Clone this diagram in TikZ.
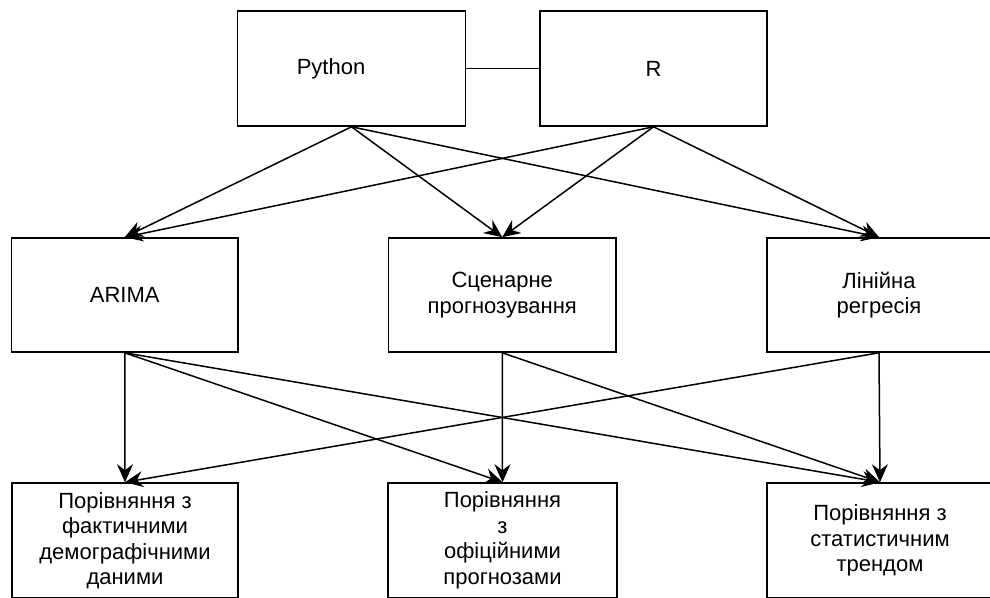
\documentclass[tikz,border=0pt]{standalone}
\usepackage{fontspec}
\setmainfont{Liberation Sans}
\usetikzlibrary{arrows.meta}
\begin{document}
\begin{tikzpicture}[x=1pt,y=-1pt,
  box/.style={draw,line width=1.6pt,rectangle,inner sep=0pt},
  lbl/.style={font=\fontsize{22}{25.5}\selectfont,align=center,inner sep=0pt},
  arr/.style={line width=1.5pt,-{Stealth[length=18pt,width=16pt,inset=6pt]}},
  link/.style={line width=1.5pt}]
\useasboundingbox (0,0) rectangle (990,597);
\clip (0,0) rectangle (990,597);
% top row
\node[box,minimum width=228pt,minimum height=115pt] (py) at (351.5,68.5) {};
\node[lbl] (pyt) at (331,68.5) {Python};
\node[box,minimum width=227pt,minimum height=115pt,lbl] (r) at (653.5,68.5) {R};
% middle row
\node[box,minimum width=226.5pt,minimum height=114pt,lbl] (ar) at (124.75,295) {ARIMA};
\node[box,minimum width=227.5pt,minimum height=114pt,lbl] (sc) at (502.25,295) {Сценарне\\прогнозування};
\node[box,minimum width=224pt,minimum height=114pt,lbl] (lr) at (879,295) {Лінійна\\регресія};
% bottom row
\node[box,minimum width=226pt,minimum height=115pt,lbl] (b1) at (125,540.5) {Порівняння з\\фактичними\\демографічними\\даними};
\node[box,minimum width=229pt,minimum height=115pt,lbl] (b2) at (502.5,540.5) {Порівняння\\з\\офіційними\\прогнозами};
\node[box,minimum width=226pt,minimum height=115pt,lbl] (b3) at (880,540.5) {Порівняння з\\статистичним\\трендом};
% connectors
\draw[link] (py.east) -- (r.west);
\draw[arr] (py.south) -- (ar.north);
\draw[arr] (py.south) -- (sc.north);
\draw[arr] (py.south) -- (lr.north);
\draw[arr] (r.south) -- (ar.north);
\draw[arr] (r.south) -- (sc.north);
\draw[arr] (r.south) -- (lr.north);
\draw[arr] (ar.south) -- (b1.north);
\draw[arr] (ar.south) -- (b2.north);
\draw[arr] (ar.south) -- (b3.north);
\draw[arr] (sc.south) -- (b2.north);
\draw[arr] (sc.south) -- (b3.north);
\draw[arr] (lr.south) -- (b3.north);
\draw[arr] (lr.south) -- (b1.north);
\end{tikzpicture}
\end{document}
